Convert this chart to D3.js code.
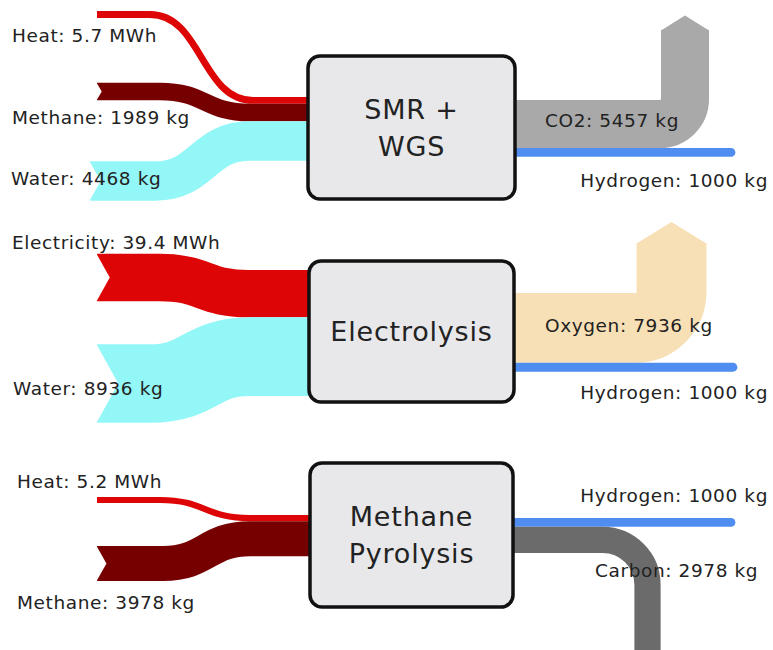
<!DOCTYPE html>
<html lang="en">
<head>
<meta charset="utf-8">
<script src="https://d3js.org/d3.v7.min.js"></script>
<style>
  body { margin: 0; background: #fff; }
  text { font-family: "DejaVu Sans", "Open Sans", sans-serif; fill: #222; }
  .lbl { font-size: 18.5px; letter-spacing: 0.6px; }
  .box-text { font-size: 27px; letter-spacing: 0.8px; }
</style>
</head>
<body>
<svg width="773" height="650"></svg>
<script>
// ---- data ----
var processNames = [["SMR +", "WGS"], ["Electrolysis"], ["Methane", "Pyrolysis"]];

var inputNames  = [["Heat", "Methane", "Water"], ["Electricity", "Water"], ["Heat", "Methane"]];
var inputValues = [[5.7, 1989, 4468], [39.4, 8936], [5.2, 3978]];
var inputUnits  = [["MWh", "kg", "kg"], ["MWh", "kg"], ["MWh", "kg"]];

var outputNames  = [["CO2", "Hydrogen"], ["Oxygen", "Hydrogen"], ["Hydrogen", "Carbon"]];
var outputValues = [[5457, 1000], [7936, 1000], [1000, 2978]];
var outputUnits  = [["kg", "kg"], ["kg", "kg"], ["kg", "kg"]];

var colors = {
  "Heat": "#dd0505", "Electricity": "#dd0505", "Methane": "#760000",
  "Water": "#93f7f7", "CO2": "#a9a9a9", "Oxygen": "#f8e0b6",
  "Hydrogen": "#4f8ef0", "Carbon": "#6b6b6b"
};

// ---- layout (positions only) ----
var panels = [
  { box: [308, 56, 207, 143], inTop: 97, outTop: 100,
    ins: [ {ys: 14.5, x0: 97, b0: 150, b1: 253, lx: 12, ly: 42},
           {ys: 91.5, x0: 97, b0: 160, b1: 250, lx: 12, ly: 124},
           {ys: 181,  x0: 90, b0: 155, b1: 250, lx: 11, ly: 185} ],
    outs: [ {turn: "up", cx: 685, r: 25, yEnd: 30, lx: 545, ly: 127, anchor: "start"},
            {turn: null, xEnd: 731, lx: 768, ly: 187, anchor: "end"} ] },
  { box: [309, 261, 205, 141], inTop: 270, outTop: 293,
    ins: [ {ys: 277.5, x0: 97, b0: 160, b1: 248, lx: 12, ly: 249},
           {ys: 383.5, x0: 97, b0: 150, b1: 250, lx: 13, ly: 395} ],
    outs: [ {turn: "up", cx: 671.5, r: 36, yEnd: 243, lx: 545, ly: 332, anchor: "start"},
            {turn: null, xEnd: 733, lx: 768, ly: 399, anchor: "end"} ] },
  { box: [310, 463, 203, 144], inTop: 515, outTop: 518,
    ins: [ {ys: 500,   x0: 97, b0: 160, b1: 250, lx: 17, ly: 488},
           {ys: 563.5, x0: 97, b0: 163, b1: 250, lx: 17, ly: 609} ],
    outs: [ {turn: null, xEnd: 731, lx: 768, ly: 502, anchor: "end"},
            {turn: "down", cx: 647.5, r: 45, yEnd: 665, lx: 595, ly: 577, anchor: "start"} ] }
];

// ---- scales: value -> band thickness ----
var kgScale  = d3.scaleLinear().domain([0, 9000]).range([0, 79.2]);
var mwhScale = d3.scaleLinear().domain([0, 40]).range([0, 48]);
function thick(v, unit) { return unit === "MWh" ? mwhScale(v) : kgScale(v); }

var svg = d3.select("svg");
var flowG = svg.append("g");
var boxG = svg.append("g");
var labelG = svg.append("g");

panels.forEach(function(p, pi) {
  var bx = p.box[0], by = p.box[1], bw = p.box[2], bh = p.box[3];

  // inputs, stacked on the left edge of the box
  var y = p.inTop;
  inputNames[pi].forEach(function(name, i) {
    var t = thick(inputValues[pi][i], inputUnits[pi][i]);
    var L = p.ins[i];
    var ye = y + t / 2;
    y += t;
    var xm = (L.b0 + L.b1) / 2;
    var path = d3.path();
    path.moveTo(L.x0, L.ys);
    path.lineTo(L.b0, L.ys);
    path.bezierCurveTo(xm, L.ys, xm, ye, L.b1, ye);
    path.lineTo(bx + 4, ye);
    flowG.append("path")
      .attr("d", path.toString())
      .attr("fill", "none")
      .attr("stroke", colors[name])
      .attr("stroke-width", t);
    if (t > 10) {
      // notch in the tail
      var d = t * 0.27;
      flowG.append("path")
        .attr("d", d3.line()([[L.x0 - 1, L.ys - t / 2 - 1], [L.x0 + d, L.ys], [L.x0 - 1, L.ys + t / 2 + 1]]))
        .attr("fill", "#fff");
    }
    labelG.append("text").attr("class", "lbl")
      .attr("x", L.lx).attr("y", L.ly)
      .text(name + ": " + inputValues[pi][i] + " " + inputUnits[pi][i]);
  });

  // outputs, stacked on the right edge of the box
  var x1 = bx + bw;
  var yo = p.outTop;
  outputNames[pi].forEach(function(name, i) {
    var t = thick(outputValues[pi][i], outputUnits[pi][i]);
    var L = p.outs[i];
    var yc = yo + t / 2;
    yo += t;
    var path = d3.path();
    path.moveTo(x1 - 4, yc);
    if (!L.turn) {
      path.lineTo(L.xEnd, yc);
    } else if (L.turn === "up") {
      path.lineTo(L.cx - L.r, yc);
      path.arcTo(L.cx, yc, L.cx, yc - L.r, L.r);
      path.lineTo(L.cx, L.yEnd);
    } else {
      path.lineTo(L.cx - L.r, yc);
      path.arcTo(L.cx, yc, L.cx, yc + L.r, L.r);
      path.lineTo(L.cx, L.yEnd);
    }
    flowG.append("path")
      .attr("d", path.toString())
      .attr("fill", "none")
      .attr("stroke", colors[name])
      .attr("stroke-width", t)
      .attr("stroke-linecap", L.turn ? "butt" : "round");
    if (L.turn === "up") {
      var h = t * 0.3;
      flowG.append("path")
        .attr("d", d3.line()([[L.cx - t / 2, L.yEnd + 0.5], [L.cx, L.yEnd - h], [L.cx + t / 2, L.yEnd + 0.5]]))
        .attr("fill", colors[name]);
    }
    labelG.append("text").attr("class", "lbl")
      .attr("x", L.lx).attr("y", L.ly)
      .attr("text-anchor", L.anchor)
      .text(name + ": " + outputValues[pi][i] + " " + outputUnits[pi][i]);
  });

  // process box
  boxG.append("rect")
    .attr("x", bx).attr("y", by).attr("width", bw).attr("height", bh)
    .attr("rx", 12).attr("ry", 12)
    .attr("fill", "#e8e8eb").attr("stroke", "#111").attr("stroke-width", 3.5);
  var lines = processNames[pi];
  lines.forEach(function(s, k) {
    boxG.append("text").attr("class", "box-text")
      .attr("x", bx + bw / 2)
      .attr("y", by + bh / 2 + 9.5 + (k - (lines.length - 1) / 2) * 37)
      .attr("text-anchor", "middle")
      .text(s);
  });
});
</script>
</body>
</html>
